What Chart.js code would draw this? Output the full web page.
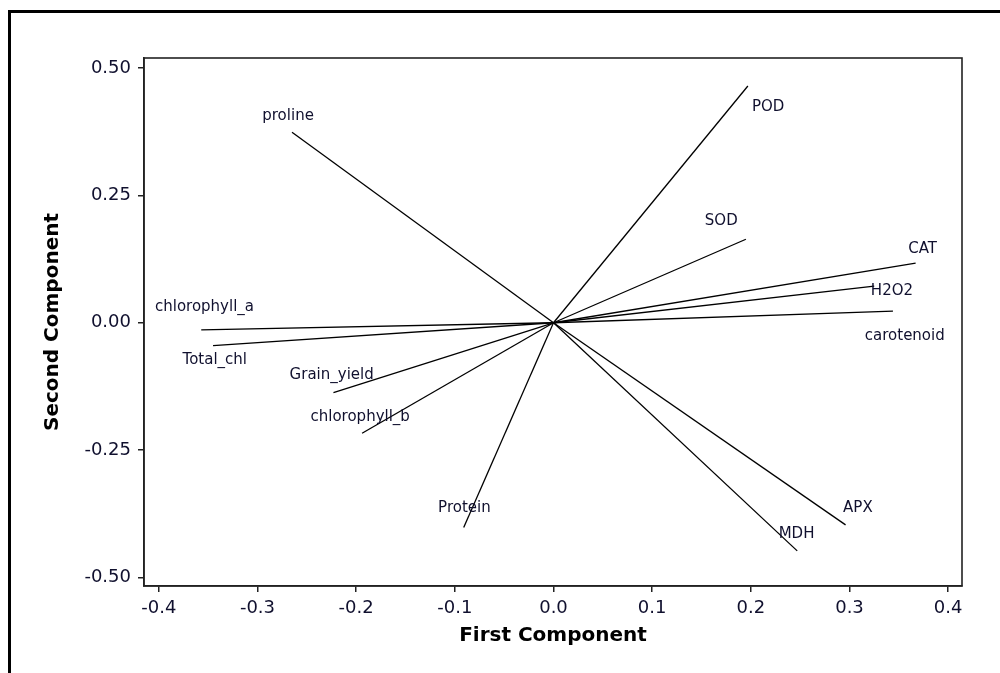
<!DOCTYPE html>
<html>
<head>
<meta charset="utf-8">
<script src="https://cdn.jsdelivr.net/npm/chart.js@4.4.1/dist/chart.umd.min.js"></script>
<style>
  html, body { margin: 0; padding: 0; background: #fff; overflow: hidden; }
  #wrap { position: relative; width: 1000px; height: 673px; }
  #frame { position: absolute; left: 8px; top: 10px; width: 1100px; height: 800px;
           border-left: 3px solid #000; border-top: 3px solid #000; box-sizing: border-box; pointer-events: none; }
  canvas { position: absolute; left: 0; top: 0; }
</style>
</head>
<body>
<div id="wrap">
  <canvas id="c" width="1000" height="673"></canvas>
  <div id="frame"></div>
</div>
<script>
// Variables (loadings on first and second component)
const variables = ['proline', 'POD', 'SOD', 'CAT', 'H2O2', 'carotenoid', 'chlorophyll_a',
                   'Total_chl', 'Grain_yield', 'chlorophyll_b', 'Protein', 'MDH', 'APX'];
const firstComponent  = [-0.265, 0.197, 0.195, 0.367, 0.325, 0.344, -0.357, -0.345, -0.223, -0.194, -0.091, 0.247, 0.296];
const secondComponent = [ 0.374, 0.465, 0.164, 0.117, 0.072, 0.023, -0.014, -0.045, -0.137, -0.217, -0.402, -0.448, -0.397];
// label anchor points (data units)
const labelX = [-0.269, 0.2175, 0.170, 0.374, 0.343, 0.356, -0.3537, -0.3433, -0.2248, -0.1959, -0.0903, 0.2463, 0.3085];
const labelY = [ 0.406, 0.423, 0.200, 0.145, 0.063, -0.0255, 0.030, -0.0731, -0.1035, -0.1845, -0.3645, -0.415, -0.3645];

const xTicks = [-0.4, -0.3, -0.2, -0.1, 0.0, 0.1, 0.2, 0.3, 0.4];
const xTickLabels = ['-0.4', '-0.3', '-0.2', '-0.1', '0.0', '0.1', '0.2', '0.3', '0.4'];
const yTicks = [-0.5, -0.25, 0, 0.25, 0.5];
const yTickLabels = ['-0.50', '-0.25', '0.00', '0.25', '0.50'];

const TEXT = '#10102e';
const FONT = "'DejaVu Sans', Verdana, sans-serif";

const datasets = variables.map((v, i) => ({
  label: v,
  data: [{x: 0, y: 0}, {x: firstComponent[i], y: secondComponent[i]}],
  showLine: true,
  borderColor: '#000',
  borderWidth: 1.3,
  pointRadius: 0,
  pointHoverRadius: 0,
  fill: false
}));

const framePlugin = {
  id: 'frameBox',
  afterDatasetsDraw(chart) {
    const {ctx, chartArea: a} = chart;
    ctx.save();
    ctx.strokeStyle = '#222';
    ctx.lineWidth = 1.6;
    ctx.strokeRect(a.left, a.top, a.right - a.left, a.bottom - a.top);
    ctx.restore();
  }
};

const labelPlugin = {
  id: 'vecLabels',
  afterDatasetsDraw(chart) {
    const {ctx, scales: {x, y}} = chart;
    ctx.save();
    ctx.font = "15px " + FONT;
    ctx.fillStyle = TEXT;
    ctx.textAlign = 'center';
    ctx.textBaseline = 'middle';
    variables.forEach((v, i) => {
      ctx.fillText(v, x.getPixelForValue(labelX[i]), y.getPixelForValue(labelY[i]));
    });
    ctx.restore();
  }
};

new Chart(document.getElementById('c'), {
  type: 'scatter',
  data: { datasets },
  plugins: [framePlugin, labelPlugin],
  options: {
    responsive: false,
    animation: false,
    devicePixelRatio: 1,
    layout: { padding: { top: 58, right: 38, left: 0, bottom: 0 } },
    plugins: { legend: { display: false }, tooltip: { enabled: false } },
    scales: {
      x: {
        type: 'linear',
        min: -0.415, max: 0.414,
        afterBuildTicks(s) { s.ticks = xTicks.map(v => ({value: v})); },
        afterFit(s) { s.height = 87; },
        grid: { display: true, drawOnChartArea: false, drawTicks: true, tickLength: 6, color: '#222', lineWidth: 1.5 },
        border: { display: true, color: '#222', width: 1.6 },
        ticks: {
          color: TEXT, font: { family: FONT, size: 18 }, padding: 6, maxRotation: 0, autoSkip: false,
          callback: (val) => { const k = xTicks.findIndex(t => Math.abs(t - val) < 1e-9); return k >= 0 ? xTickLabels[k] : ''; }
        },
        title: { display: true, text: 'First Component', color: '#000',
                 font: { family: FONT, size: 20, weight: 'bold' }, padding: { top: 0, bottom: 25 } }
      },
      y: {
        type: 'linear',
        min: -0.517, max: 0.52,
        afterBuildTicks(s) { s.ticks = yTicks.map(v => ({value: v})); },
        afterFit(s) { s.width = 144; },
        grid: { display: true, drawOnChartArea: false, drawTicks: true, tickLength: 6, color: '#222', lineWidth: 1.5 },
        border: { display: true, color: '#222', width: 1.6 },
        ticks: {
          color: TEXT, font: { family: FONT, size: 18 }, padding: 7, autoSkip: false,
          callback: (val) => { const k = yTicks.findIndex(t => Math.abs(t - val) < 1e-9); return k >= 0 ? yTickLabels[k] : ''; }
        },
        title: { display: true, text: 'Second Component', color: '#000',
                 font: { family: FONT, size: 20, weight: 'bold' }, padding: { top: 41, bottom: 0 } }
      }
    }
  }
});
</script>
</body>
</html>
